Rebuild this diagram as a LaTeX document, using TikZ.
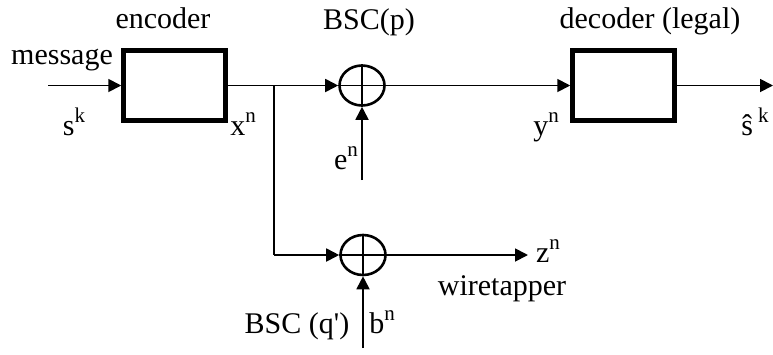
\documentclass[tikz,border=0pt]{standalone}
\usepackage{fontspec}
\setmainfont{Liberation Serif}[Ligatures=TeXOff]
\usetikzlibrary{shapes.geometric,arrows.meta}
\newcommand\supx[1]{\raisebox{13pt}{\fontsize{21}{21}\selectfont #1}}
\tikzset{
  lbl/.style={font=\fontsize{30}{34}\selectfont, inner sep=0pt, anchor=base},
  blockbox/.style={draw, line width=4.5pt, minimum width=102pt, minimum height=70pt, inner sep=0pt},
  adder/.style={draw, ellipse, line width=2.6pt, minimum width=45pt, minimum height=40pt, inner sep=0pt},
  sig/.style={line width=1.8pt, -{Triangle[length=13pt,width=13pt]}},
  plainline/.style={line width=1.8pt},
  tapline/.style={line width=2.8pt},
}
\begin{document}
\begin{tikzpicture}[x=1pt,y=-1pt]
\useasboundingbox (0,0) rectangle (773,354);
% blocks
\node[blockbox] (enc) at (174.5,85.5) {};
\node[blockbox] (dec) at (623.5,85.5) {};
\node[adder] (add1) at (362,85.5) {};
\node[adder] (add2) at (363,255) {};
\draw[plainline] (add1.north) -- (add1.south) (add1.west) -- (add1.east);
\draw[plainline] (add2.north) -- (add2.south) (add2.west) -- (add2.east);
% coordinates
\coordinate (in) at (48,85.5);
\coordinate (j) at (274,85.5);
\coordinate (j2) at (274,255);
\coordinate (out) at (773,85.5);
\coordinate (e) at (362,180);
\coordinate (b) at (363,348);
\coordinate (z) at (528,255);
% connectors
\draw[sig] (in) -- (enc.west);
\draw[sig] (enc.east) -- (add1.west);
\draw[sig] (add1.east) -- (dec.west);
\draw[sig] (dec.east) -- (out);
\draw[sig] (e) -- (add1.south);
\draw[tapline] (j) -- (j2);
\draw[sig] (j2) -- (add2.west);
\draw[sig] (add2.east) -- (z);
\draw[sig] (b) -- (add2.south);
% labels
\node[lbl] (lmsg) at (62,64) {message};
\node[lbl] (lenc) at (163,28) {encoder};
\node[lbl] (lbsc) at (369,29) {BSC(p)};
\node[lbl] (ldec) at (650,28) {decoder (legal)};
\node[lbl] (lsk) at (74,135) {s\supx{k}};
\node[lbl] (lxn) at (243,135) {x\supx{n}};
\node[lbl] (len) at (346,169) {e\supx{n}};
\node[lbl] (lyn) at (546,135) {y\supx{n}};
\node[lbl] (lshat) at (755,135) {ŝ\,\supx{k}};
\node[lbl] (lzn) at (548,262) {z\supx{n}};
\node[lbl] (lwt) at (502,295) {wiretapper};
\node[lbl] (lbscq) at (297,333) {BSC (q')};
\node[lbl] (lbn) at (382,333) {b\supx{n}};
\end{tikzpicture}
\end{document}
